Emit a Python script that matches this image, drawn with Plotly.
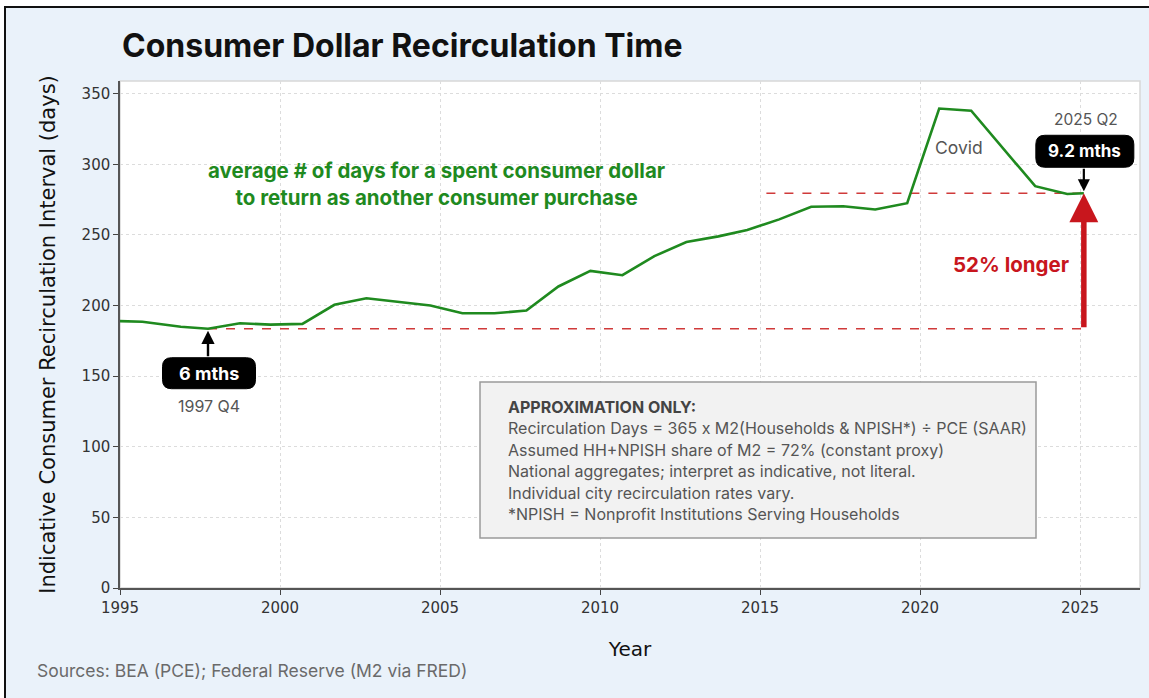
import plotly.graph_objects as go

# ---------------- data ----------------
years = [1995.0, 1995.7, 1996.9, 1997.75, 1998.75, 1999.7, 2000.7, 2001.7, 2002.7, 2003.7,
         2004.7, 2005.7, 2006.7, 2007.7, 2008.7, 2009.7, 2010.7, 2011.7, 2012.7, 2013.7,
         2014.6, 2015.6, 2016.6, 2017.6, 2018.6, 2019.6, 2020.6, 2021.6, 2022.6, 2023.6,
         2024.6, 2025.12]
days = [189.0, 188.5, 185.0, 183.6, 187.5, 186.5, 187.0, 200.5, 205.2, 202.8,
        200.0, 194.5, 194.5, 196.5, 213.5, 224.5, 221.5, 235.0, 245.0, 249.0,
        253.5, 261.0, 270.0, 270.3, 268.0, 272.5, 339.5, 338.0, 311.0, 284.5,
        279.0, 279.5]

x_ticks = [1995, 2000, 2005, 2010, 2015, 2020, 2025]
y_ticks = [0, 50, 100, 150, 200, 250, 300, 350]

title_text = "Consumer Dollar Recirculation Time"
x_title = "Year"
y_title = "Indicative Consumer Recirculation Interval (days)"
source_text = "Sources: BEA (PCE); Federal Reserve (M2 via FRED)"
green_note = "average # of days for a spent consumer dollar<br>to return as another consumer purchase"
low_label, low_date = "6 mths", "1997 Q4"
end_label, end_date = "9.2 mths", "2025 Q2"
pct_label = "52% longer"
covid_label = "Covid"
note_lines = [
    "<b>APPROXIMATION ONLY:</b>",
    "Recirculation Days = 365 x M2(Households & NPISH*) ÷ PCE (SAAR)",
    "Assumed HH+NPISH share of M2 = 72% (constant proxy)",
    "National aggregates; interpret as indicative, not literal.",
    "Individual city recirculation rates vary.",
    "*NPISH = Nonprofit Institutions Serving Households",
]

# ---------------- layout geometry ----------------
W, H = 1149, 698
ML, MR, MT, MB = 120, 9, 81, 110
PW, PH = W - ML - MR, H - MT - MB
X_RANGE = [1995, 1995 + PW / 32.0]
Y_RANGE = [0, 359]
PX_X = PW / (X_RANGE[1] - X_RANGE[0])
PX_Y = PH / (Y_RANGE[1] - Y_RANGE[0])


def dx(px):
    return px / PX_X


def dy(px):
    return px / PX_Y


def paper_x(px):
    return (px - ML) / PW


def paper_y(py):
    return (H - MB - py) / PH


BG = "#eaf2fa"
GREEN = "#1f8a1f"
RED = "#c8161d"
DASH_RED = "#d03a3a"
GRAY_TXT = "#555555"
FONT = "Inter, Open Sans, sans-serif"
AXFONT = "DejaVu Sans, sans-serif"

low_i = days.index(min(days[:10]))
x_low, y_low = years[low_i], days[low_i]
x_end, y_end = years[-1], days[-1]
upper_dash_start = 2015.2

fig = go.Figure()

# reference dashed lines
fig.add_trace(go.Scatter(x=[x_low, x_end], y=[y_low, y_low], mode="lines",
                         line=dict(color=DASH_RED, width=1.6, dash="dash"),
                         hoverinfo="skip", showlegend=False))
fig.add_trace(go.Scatter(x=[upper_dash_start, x_end], y=[y_end, y_end], mode="lines",
                         line=dict(color=DASH_RED, width=1.6, dash="dash"),
                         hoverinfo="skip", showlegend=False))
# main series
fig.add_trace(go.Scatter(x=years, y=days, mode="lines",
                         line=dict(color=GREEN, width=2.6),
                         showlegend=False))


def rounded_box(cx, cy, wpx, hpx, rpx):
    hw, hh = dx(wpx / 2), dy(hpx / 2)
    rx, ry = dx(rpx), dy(rpx)
    x0, x1 = cx - hw, cx + hw
    y0, y1 = cy - hh, cy + hh
    p = (f"M {x0+rx},{y1} L {x1-rx},{y1} Q {x1},{y1} {x1},{y1-ry} "
         f"L {x1},{y0+ry} Q {x1},{y0} {x1-rx},{y0} "
         f"L {x0+rx},{y0} Q {x0},{y0} {x0},{y0+ry} "
         f"L {x0},{y1-ry} Q {x0},{y1} {x0+rx},{y1} Z")
    return dict(type="path", path=p, xref="x", yref="y", fillcolor="black",
                line=dict(color="black", width=1), layer="above")


shapes = []
annotations = []

# white outside strips and figure frame (top + left edges)
shapes.append(dict(type="rect", xref="paper", yref="paper",
                   x0=paper_x(-2), x1=paper_x(W + 2), y0=paper_y(6), y1=paper_y(-2),
                   fillcolor="white", line=dict(width=0), layer="below"))
shapes.append(dict(type="rect", xref="paper", yref="paper",
                   x0=paper_x(-2), x1=paper_x(4), y0=paper_y(H + 2), y1=paper_y(-2),
                   fillcolor="white", line=dict(width=0), layer="below"))
# cover strip along the right edge (keeps the background uniform there)
shapes.append(dict(type="rect", xref="paper", yref="paper",
                   x0=paper_x(W - 7), x1=paper_x(W + 3), y0=paper_y(H + 2), y1=paper_y(8),
                   fillcolor=BG, line=dict(width=0), layer="above"))
shapes.append(dict(type="line", xref="paper", yref="paper",
                   x0=paper_x(4), x1=paper_x(W + 2), y0=paper_y(7), y1=paper_y(7),
                   line=dict(color="#111111", width=2), layer="below"))
shapes.append(dict(type="line", xref="paper", yref="paper",
                   x0=paper_x(5), x1=paper_x(5), y0=paper_y(6), y1=paper_y(H + 2),
                   line=dict(color="#111111", width=2), layer="below"))
# light plot frame
shapes.append(dict(type="rect", xref="paper", yref="paper", x0=0, x1=1, y0=0, y1=1,
                   line=dict(color="#d8d8d8", width=1.5), layer="below"))

# low point box + arrow
low_box_cy = y_low - dy(44.5)
shapes.append(rounded_box(x_low + dx(1), low_box_cy, 93, 31, 9))
annotations.append(dict(x=x_low + dx(1), y=low_box_cy, xref="x", yref="y",
                        text=f"<b>{low_label}</b>", showarrow=False,
                        font=dict(family=FONT, size=18, color="white")))
annotations.append(dict(x=x_low, y=y_low - dy(2), ax=x_low, ay=low_box_cy + dy(15.5),
                        xref="x", yref="y", axref="x", ayref="y", text="",
                        showarrow=True, arrowhead=2, arrowsize=1.1, arrowwidth=2.4,
                        arrowcolor="black"))
annotations.append(dict(x=x_low + dx(1), y=y_low - dy(77), xref="x", yref="y", text=low_date,
                        showarrow=False, font=dict(family=FONT, size=16, color=GRAY_TXT)))

# end point box + arrow
end_box_cy = y_end + dy(42)
shapes.append(rounded_box(x_end + dx(1), end_box_cy, 98, 32, 9))
annotations.append(dict(x=x_end + dx(1), y=end_box_cy, xref="x", yref="y",
                        text=f"<b>{end_label}</b>", showarrow=False,
                        font=dict(family=FONT, size=17, color="white")))
annotations.append(dict(x=x_end, y=y_end + dy(2), ax=x_end, ay=end_box_cy - dy(16),
                        xref="x", yref="y", axref="x", ayref="y", text="",
                        showarrow=True, arrowhead=2, arrowsize=1.1, arrowwidth=2.2,
                        arrowcolor="black"))
annotations.append(dict(x=x_end + dx(2), y=y_end + dy(74), xref="x", yref="y", text=end_date,
                        showarrow=False, font=dict(family=FONT, size=15.5, color=GRAY_TXT)))

# red growth arrow
annotations.append(dict(x=x_end, y=y_end, ax=x_end, ay=y_low,
                        xref="x", yref="y", axref="x", ayref="y", text="",
                        showarrow=True, arrowhead=2, arrowsize=1.05, arrowwidth=5.5,
                        arrowcolor=RED))
annotations.append(dict(x=x_end - dx(73), y=(y_low + y_end) / 2 - dy(4), xref="x", yref="y",
                        text=f"<b>{pct_label}</b>", showarrow=False,
                        font=dict(family=FONT, size=20.5, color=RED)))

# Covid label
annotations.append(dict(x=2021.22, y=311.6, xref="x", yref="y", text=covid_label,
                        showarrow=False, font=dict(family=FONT, size=17.5, color=GRAY_TXT)))

# green explanatory text
annotations.append(dict(x=2004.9, y=286.0, xref="x", yref="y", text=f"<b>{green_note}</b>",
                        showarrow=False, align="center",
                        font=dict(family=FONT, size=20.5, color=GREEN)))

# note box
box_x0, box_x1 = 2006.25, 2023.625
box_y1, box_y0 = 145.9, 35.4
shapes.append(dict(type="rect", xref="x", yref="y", x0=box_x0, x1=box_x1, y0=box_y0, y1=box_y1,
                   fillcolor="#f2f2f2", line=dict(color="#9a9a9a", width=1.5), layer="above"))
for i, line in enumerate(note_lines):
    annotations.append(dict(x=box_x0 + dx(26), y=box_y1 - dy(25 + 21.4 * i), xref="x", yref="y",
                            text=line, showarrow=False, xanchor="left", yanchor="middle",
                            font=dict(family=FONT, size=16,
                                      color="#444444" if i == 0 else GRAY_TXT)))

# title and source
annotations.append(dict(x=0, y=paper_y(45), xref="paper", yref="paper",
                        text=f"<b>{title_text}</b>", showarrow=False, xanchor="left",
                        yanchor="middle", font=dict(family=FONT, size=32, color="#111111")))
annotations.append(dict(x=paper_x(35), y=paper_y(670), xref="paper", yref="paper",
                        text=source_text, showarrow=False, xanchor="left", yanchor="middle",
                        font=dict(family=FONT, size=17.5, color="#6a6a6a")))

fig.update_layout(
    width=W, height=H,
    margin=dict(l=ML, r=MR, t=MT, b=MB),
    paper_bgcolor=BG,
    plot_bgcolor="white",
    shapes=shapes,
    annotations=annotations,
    showlegend=False,
    xaxis=dict(range=X_RANGE, tickvals=x_ticks, ticks="outside", ticklen=5,
               tickcolor="#444", showline=True, linecolor="#555", linewidth=1.5,
               showgrid=True, gridcolor="#dcdcdc", griddash="dot", gridwidth=1,
               zeroline=False, tickfont=dict(family=AXFONT, size=15, color="#333"),
               title=dict(text=x_title, font=dict(family=AXFONT, size=20, color="#111"),
                          standoff=26)),
    yaxis=dict(range=Y_RANGE, tickvals=y_ticks, ticks="outside", ticklen=5,
               tickcolor="#444", showline=True, linecolor="#555", linewidth=1.5,
               showgrid=True, gridcolor="#dcdcdc", griddash="dot", gridwidth=1,
               zeroline=False, tickfont=dict(family=AXFONT, size=15, color="#333"),
               title=dict(text=y_title, font=dict(family=AXFONT, size=21, color="#111"),
                          standoff=20)),
)

fig.write_html("out.html", config={"displayModeBar": False},
               post_script="document.body.style.margin='0';document.body.style.overflow='hidden';")
